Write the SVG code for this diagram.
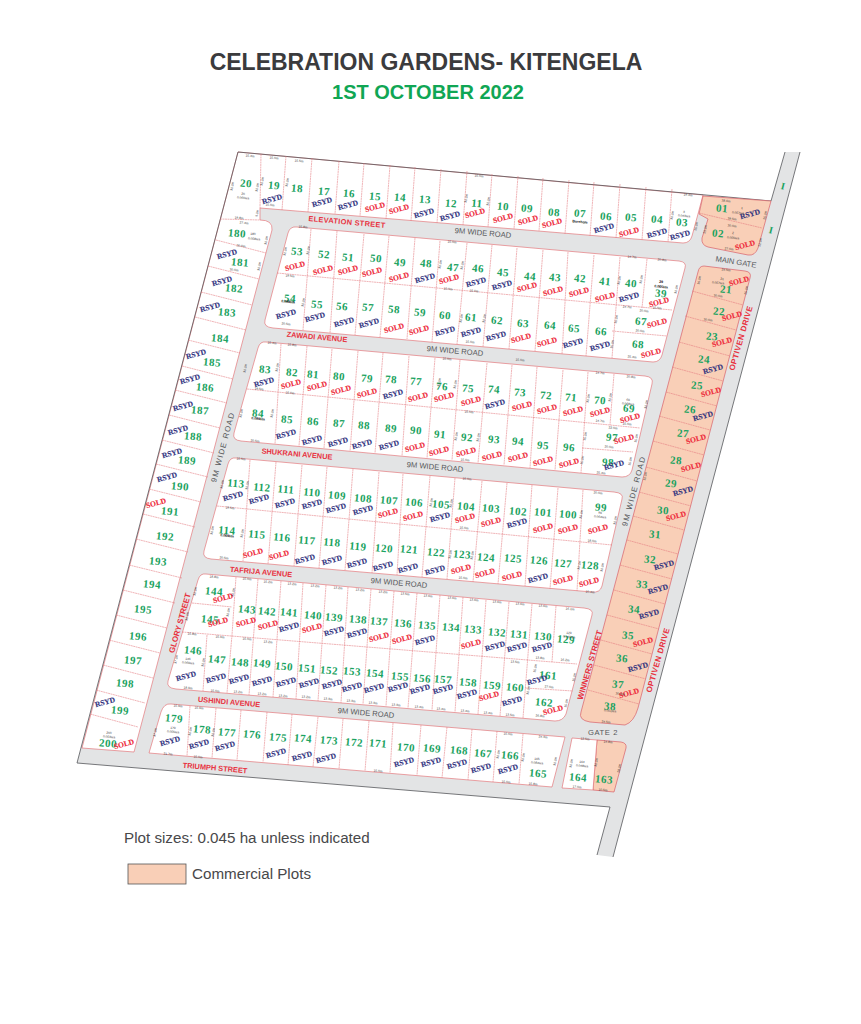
<svg xmlns="http://www.w3.org/2000/svg" width="861" height="1024" viewBox="0 0 861 1024">
<style>
text{font-family:"Liberation Sans",Arial,sans-serif}
.n,.s,.r,.st,.g,.v,.vr,.d,.dv,.k,.i{transform-box:fill-box;transform-origin:center;text-anchor:middle;dominant-baseline:central}
.n{font-family:"Liberation Serif","Times New Roman",serif;font-weight:bold;font-size:11px;letter-spacing:.5px;fill:#1ba35f;transform:rotate(5deg)}
.s{font-family:"Liberation Serif","Times New Roman",serif;font-weight:bold;font-size:7.6px;fill:#ee2a3b;stroke:#ee2a3b;stroke-width:.15;transform:rotate(-15deg)}
.r{font-family:"Liberation Serif","Times New Roman",serif;font-weight:bold;font-size:7.6px;fill:#34357f;stroke:#34357f;stroke-width:.15;transform:rotate(-15deg)}
.st{font-weight:bold;font-size:7.4px;fill:#e8323f;transform:rotate(5deg)}
.g{font-size:7.6px;fill:#55575a;transform:rotate(5deg)}
.v{font-size:7.8px;letter-spacing:1.2px;fill:#55575a;transform:rotate(-75deg)}
.vr{font-weight:bold;font-size:8px;fill:#e8323f;transform:rotate(-74deg)}
.d{font-size:3.2px;fill:#333;transform:rotate(5deg)}
.dv{font-size:3.2px;fill:#333;transform:rotate(-80deg)}
.k{font-size:3.6px;fill:#111;font-weight:bold;transform:rotate(5deg)}
.i{font-family:"Liberation Serif",serif;font-weight:bold;font-size:10px;fill:#1ba35f;transform:rotate(14deg)}
.block{fill:#fff;stroke:#e4787c;stroke-width:.7}
.peach{fill:#f9cfb7;stroke:#d9606a;stroke-width:.7}
.lines{fill:none;stroke:#e4787c;stroke-width:.55;stroke-dasharray:2 .5}
</style>
<rect width="861" height="1024" fill="#fff"/>
<text x="426" y="70" text-anchor="middle" font-size="23" font-weight="bold" fill="#3b3b3d">CELEBRATION GARDENS- KITENGELA</text>
<text x="428" y="99" text-anchor="middle" font-size="20" font-weight="bold" fill="#10a654">1ST OCTOBER 2022</text>

<path d="M238 152L771 201L785 152H800L613 857L597 855L610 807L77 763Z" fill="#e3e4e5"/>
<path d="M238 152L703 195L698 214L692 236Q690 243 683 243L260 208V220Q273 220 272 230L134 752L82 748Z" class="block"/>
<path d="M238 152L771 201L785 152M800 152L613 857M597 855L610 807L77 763L238 152" fill="none" stroke="#55575a" stroke-width=".8"/>
<path d="M703 196L771 201L758 248Q755 256 748 255L708 247Q701 245 702 238L708 219L699 214Z" class="peach"/>
<path d="M704 266L745 271Q752 272 750 278L638 708Q634 722 625 725L590 722Q578 720 581 712L698 272Q699 266 704 266Z" class="peach"/>
<path d="M597 740L621 742Q627 743 626 748L614 792L593 790Z" class="peach"/>
<path d="M572 738L597 740L593 790L562 788Z" class="block"/>
<path d="M297 227L679 261Q687 262 685 268L662 355Q660 362 653 362L273 328Q263 327 265 320L288 233Q290 226 297 227Z" class="block"/>
<path d="M266 342L645 376Q654 377 652 384L632 470Q630 477 622 477L241 441Q232 440 234 433L258 348Q260 341 266 342Z" class="block"/>
<path d="M236 458L614 492Q624 493 622 499L602 586Q600 593 592 592L211 559Q202 558 204 551L228 464Q230 457 236 458Z" class="block"/>
<path d="M206 574L584 608Q594 609 592 615L566 714Q563 721 555 721L176 689Q166 688 168 681L198 580Q200 573 206 574Z" class="block"/>
<path d="M171 704L565 737L552 787L149 753L161 712Q164 703 171 704Z" class="block"/>

<g class="lines">
<path d="M261 154L260 208M286 156L282 210M312 158L308 212M339 161L335 214M364 163L360 216M390 165L386 219M415 167L411 221M441 169L437 223M467 171L463 225M492 174L488 227M518 176L514 229M543 178L539 231M569 180L565 234M594 182L590 236M620 184L616 238M646 187L642 240M672 189L668 242"/>
<path d="M220 219L260 220M216 240L266 253M208 266L259 279M201 292L252 305M195 317L246 330M188 340L240 353M182 366L233 379M175 390L227 403M169 415L220 428M162 440L214 453M156 464L208 477M149 489L201 502M143 514L195 527M136 539L188 552M129 565L182 578M123 590L175 603M116 615L167 628M109 640L160 653M103 665L153 678M96 690L145 703M90 714L138 727"/>
<path d="M311 229L303 330M337 231L330 333M364 234L355 335M389 236L380 337M415 238L407 339M440 241L432 342M467 243L457 344M492 245L483 347M517 248L509 349M543 250L535 351M568 252L562 354M594 255L586 356M620 257L612 358M647 259L642 308M277 273L672 310M612 331L667 336"/>
<path d="M281 344L275 444M307 346L299 446M332 349L324 448M358 351L350 451M383 353L375 453M409 356L402 456M435 358L427 458M460 360L452 460M487 363L478 463M512 365L504 465M537 367L530 468M563 370L555 470M588 372L581 473M614 374L610 425M247 389L640 428M582 448L633 452"/>
<path d="M250 460L243 561M276 462L268 564M302 465L294 566M327 467L319 568M353 469L345 570M379 472L372 573M403 474L397 575M430 476L422 577M455 478L447 579M482 481L473 582M507 483L498 584M532 485L525 586M558 488L550 589M583 490L577 591M217 506L612 545"/>
<path d="M236 577L232 635M258 579L249 695M281 581L273 697M303 583L296 699M326 585L318 701M348 587L341 703M371 589L363 704M394 591L386 706M417 593L408 708M440 595L432 710M463 597L455 712M486 600L478 714M509 602L500 716M532 604L523 718M556 606L552 662M192 603L232 607M182 632L577 664M207 635L203 691M232 635L227 693M525 688L573 691"/>
<path d="M190 706L187 756M216 708L212 758M241 710L237 760M267 712L263 762M292 714L288 765M318 717L313 767M343 719L339 769M369 721L365 771M393 723L390 773M421 725L417 775M447 727L442 778M472 729L468 780M497 731L493 782M523 734L519 784"/>
<path d="M699 213L762 228"/>
<path d="M692 291L743 305M685 316L736 330M679 342L730 356M672 367L723 381M666 392L717 406M659 416L710 430M653 441L704 455M646 467L697 481M639 492L691 506M633 516L684 530M627 540L678 554M620 565L672 579M614 590L665 604M607 615L659 629M601 640L652 654M594 665L646 679M588 690L639 704"/>
</g>

<text class="st" x="347" y="222" letter-spacing=".3">ELEVATION STREET</text>
<text class="st" x="317" y="337">ZAWADI AVENUE</text>
<text class="st" x="297" y="454">SHUKRANI AVENUE</text>
<text class="st" x="261" y="572">TAFRIJA AVENUE</text>
<text class="st" x="229" y="702">USHINDI AVENUE</text>
<text class="st" x="215" y="768">TRIUMPH STREET</text>
<text class="g" x="483" y="233">9M WIDE ROAD</text>
<text class="g" x="455" y="351">9M WIDE ROAD</text>
<text class="g" x="435" y="467">9M WIDE ROAD</text>
<text class="g" x="399" y="583">9M WIDE ROAD</text>
<text class="g" x="366" y="713">9M WIDE ROAD</text>
<text class="g" x="736" y="262" style="transform:rotate(9deg)">MAIN GATE</text>
<text class="g" x="603" y="732" style="transform:none;letter-spacing:.6px">GATE 2</text>
<text class="v" x="223" y="447">9M WIDE ROAD</text>
<text class="v" x="634" y="491">9M WIDE ROAD</text>
<text class="vr" x="180" y="623">GLORY STREET</text>
<text class="vr" x="590" y="665">WINNERS STREET</text>
<text class="vr" x="741" y="338" letter-spacing=".4">OPTIVEN DRIVE</text>
<text class="vr" x="658" y="660" letter-spacing=".4">OPTIVEN DRIVE</text>
<text class="i" x="783" y="186">I</text>
<text class="i" x="771" y="230">I</text>

<g id="plot-numbers">
<text class="n" x="246" y="183">20</text><text class="n" x="274" y="185">19</text><text class="n" x="297" y="188">18</text><text class="n" x="324" y="191">17</text><text class="n" x="349" y="193">16</text><text class="n" x="375" y="196">15</text><text class="n" x="400" y="197">14</text><text class="n" x="425" y="199">13</text><text class="n" x="451" y="203">12</text><text class="n" x="477" y="203">11</text><text class="n" x="503" y="206">10</text><text class="n" x="527" y="208">09</text><text class="n" x="554" y="212">08</text><text class="n" x="580" y="213">07</text><text class="n" x="606" y="216">06</text><text class="n" x="631" y="217">05</text><text class="n" x="657" y="219">04</text><text class="n" x="682" y="222">03</text><text class="n" x="722" y="208">01</text><text class="n" x="718" y="233">02</text>
<text class="n" x="297" y="251">53</text><text class="n" x="324" y="254">52</text><text class="n" x="348" y="257">51</text><text class="n" x="376" y="258">50</text><text class="n" x="400" y="262">49</text><text class="n" x="426" y="263">48</text><text class="n" x="453" y="267">47</text><text class="n" x="478" y="268">46</text><text class="n" x="503" y="272">45</text><text class="n" x="530" y="276">44</text><text class="n" x="555" y="277">43</text><text class="n" x="580" y="278">42</text><text class="n" x="605" y="281">41</text><text class="n" x="631" y="283">40</text><text class="n" x="661" y="293">39</text>
<text class="n" x="290" y="298">54</text><text class="n" x="317" y="304">55</text><text class="n" x="342" y="306">56</text><text class="n" x="368" y="307">57</text><text class="n" x="394" y="309">58</text><text class="n" x="420" y="312">59</text><text class="n" x="445" y="315">60</text><text class="n" x="471" y="317">61</text><text class="n" x="497" y="320">62</text><text class="n" x="523" y="323">63</text><text class="n" x="550" y="325">64</text><text class="n" x="574" y="328">65</text><text class="n" x="601" y="331">66</text><text class="n" x="641" y="321">67</text><text class="n" x="638" y="344">68</text>
<text class="n" x="726" y="289">21</text><text class="n" x="719" y="311">22</text><text class="n" x="712" y="336">23</text><text class="n" x="704" y="359">24</text><text class="n" x="697" y="385">25</text><text class="n" x="690" y="409">26</text><text class="n" x="683" y="433">27</text><text class="n" x="676" y="460">28</text><text class="n" x="671" y="483">29</text><text class="n" x="663" y="510">30</text><text class="n" x="655" y="534">31</text><text class="n" x="650" y="559">32</text><text class="n" x="642" y="584">33</text><text class="n" x="634" y="609">34</text><text class="n" x="628" y="635">35</text><text class="n" x="622" y="658">36</text><text class="n" x="618" y="684">37</text><text class="n" x="610" y="706">38</text>
<text class="n" x="265" y="369">83</text><text class="n" x="292" y="372">82</text><text class="n" x="313" y="374">81</text><text class="n" x="339" y="376">80</text><text class="n" x="367" y="378">79</text><text class="n" x="391" y="379">78</text><text class="n" x="416" y="381">77</text><text class="n" x="442" y="386">76</text><text class="n" x="468" y="388">75</text><text class="n" x="494" y="389">74</text><text class="n" x="520" y="392">73</text><text class="n" x="546" y="395">72</text><text class="n" x="571" y="397">71</text><text class="n" x="600" y="400">70</text><text class="n" x="629" y="408">69</text>
<text class="n" x="258" y="413">84</text><text class="n" x="287" y="419">85</text><text class="n" x="313" y="421">86</text><text class="n" x="339" y="423">87</text><text class="n" x="364" y="425">88</text><text class="n" x="391" y="428">89</text><text class="n" x="416" y="430">90</text><text class="n" x="440" y="434">91</text><text class="n" x="467" y="437">92</text><text class="n" x="494" y="439">93</text><text class="n" x="518" y="441">94</text><text class="n" x="543" y="445">95</text><text class="n" x="569" y="447">96</text><text class="n" x="612" y="437">97</text><text class="n" x="608" y="462">98</text>
<text class="n" x="236" y="483">113</text><text class="n" x="262" y="487">112</text><text class="n" x="286" y="489">111</text><text class="n" x="312" y="492">110</text><text class="n" x="337" y="495">109</text><text class="n" x="363" y="498">108</text><text class="n" x="389" y="500">107</text><text class="n" x="414" y="502">106</text><text class="n" x="441" y="504">105</text><text class="n" x="466" y="506">104</text><text class="n" x="491" y="508">103</text><text class="n" x="518" y="511">102</text><text class="n" x="543" y="512">101</text><text class="n" x="568" y="514">100</text><text class="n" x="601" y="507">99</text>
<text class="n" x="227" y="530">114</text><text class="n" x="257" y="534">115</text><text class="n" x="282" y="537">116</text><text class="n" x="307" y="540">117</text><text class="n" x="332" y="542">118</text><text class="n" x="358" y="546">119</text><text class="n" x="384" y="548">120</text><text class="n" x="409" y="549">121</text><text class="n" x="436" y="552">122</text><text class="n" x="462" y="554">123</text><text class="n" x="486" y="557">124</text><text class="n" x="513" y="558">125</text><text class="n" x="539" y="560">126</text><text class="n" x="563" y="563">127</text><text class="n" x="590" y="565">128</text>
<text class="n" x="214" y="591">144</text><text class="n" x="247" y="609">143</text><text class="n" x="267" y="611">142</text><text class="n" x="289" y="612">141</text><text class="n" x="313" y="615">140</text><text class="n" x="334" y="617">139</text><text class="n" x="358" y="619">138</text><text class="n" x="379" y="621">137</text><text class="n" x="403" y="623">136</text><text class="n" x="427" y="625">135</text><text class="n" x="451" y="627">134</text><text class="n" x="473" y="629">133</text><text class="n" x="497" y="632">132</text><text class="n" x="519" y="634">131</text><text class="n" x="543" y="636">130</text><text class="n" x="566" y="639">129</text>
<text class="n" x="210" y="619">145</text><text class="n" x="193" y="650">146</text><text class="n" x="217" y="659">147</text><text class="n" x="240" y="662">148</text><text class="n" x="262" y="663">149</text><text class="n" x="284" y="666">150</text><text class="n" x="307" y="668">151</text><text class="n" x="329" y="670">152</text><text class="n" x="352" y="671">153</text><text class="n" x="375" y="673">154</text><text class="n" x="400" y="676">155</text><text class="n" x="422" y="678">156</text><text class="n" x="443" y="679">157</text><text class="n" x="468" y="682">158</text><text class="n" x="492" y="685">159</text><text class="n" x="515" y="687">160</text><text class="n" x="548" y="675">161</text><text class="n" x="544" y="702">162</text>
<text class="n" x="174" y="718">179</text><text class="n" x="202" y="729">178</text><text class="n" x="227" y="732">177</text><text class="n" x="252" y="734">176</text><text class="n" x="278" y="737">175</text><text class="n" x="303" y="738">174</text><text class="n" x="329" y="740">173</text><text class="n" x="354" y="742">172</text><text class="n" x="378" y="743">171</text><text class="n" x="406" y="747">170</text><text class="n" x="432" y="748">169</text><text class="n" x="459" y="750">168</text><text class="n" x="483" y="753">167</text><text class="n" x="510" y="755">166</text><text class="n" x="538" y="773">165</text><text class="n" x="578" y="777">164</text><text class="n" x="604" y="779">163</text>
<text class="n" x="237" y="233">180</text><text class="n" x="240" y="262">181</text><text class="n" x="234" y="288">182</text><text class="n" x="227" y="312">183</text><text class="n" x="220" y="338">184</text><text class="n" x="212" y="362">185</text><text class="n" x="205" y="387">186</text><text class="n" x="200" y="410">187</text><text class="n" x="193" y="436">188</text><text class="n" x="187" y="460">189</text><text class="n" x="180" y="486">190</text><text class="n" x="170" y="511">191</text><text class="n" x="165" y="536">192</text><text class="n" x="158" y="561">193</text><text class="n" x="152" y="584">194</text><text class="n" x="143" y="609">195</text><text class="n" x="138" y="636">196</text><text class="n" x="133" y="660">197</text><text class="n" x="125" y="683">198</text><text class="n" x="120" y="710">199</text><text class="n" x="108" y="743">200</text>
</g>

<g id="sold">
<text class="s" x="375" y="207">SOLD</text><text class="s" x="399" y="209">SOLD</text><text class="s" x="475" y="213">SOLD</text><text class="s" x="503" y="218">SOLD</text><text class="s" x="528" y="220">SOLD</text><text class="s" x="552" y="223">SOLD</text><text class="s" x="629" y="232">SOLD</text><text class="s" x="745" y="245">SOLD</text>
<text class="s" x="295" y="266">SOLD</text><text class="s" x="323" y="270">SOLD</text><text class="s" x="348" y="270">SOLD</text><text class="s" x="372" y="272">SOLD</text><text class="s" x="399" y="277">SOLD</text><text class="s" x="449" y="279">SOLD</text><text class="s" x="527" y="287">SOLD</text><text class="s" x="553" y="291">SOLD</text><text class="s" x="579" y="292">SOLD</text><text class="s" x="605" y="297">SOLD</text><text class="s" x="659" y="302">SOLD</text>
<text class="s" x="394" y="328">SOLD</text><text class="s" x="419" y="330">SOLD</text><text class="s" x="521" y="338">SOLD</text><text class="s" x="547" y="342">SOLD</text><text class="s" x="657" y="323">SOLD</text><text class="s" x="651" y="353">SOLD</text>
<text class="s" x="739" y="281">SOLD</text><text class="s" x="732" y="316">SOLD</text><text class="s" x="722" y="342">SOLD</text><text class="s" x="711" y="392">SOLD</text><text class="s" x="696" y="439">SOLD</text><text class="s" x="691" y="467">SOLD</text><text class="s" x="676" y="516">SOLD</text><text class="s" x="643" y="642">SOLD</text><text class="s" x="629" y="693">SOLD</text>
<text class="s" x="291" y="384">SOLD</text><text class="s" x="317" y="386">SOLD</text><text class="s" x="341" y="390">SOLD</text><text class="s" x="367" y="393">SOLD</text><text class="s" x="418" y="397">SOLD</text><text class="s" x="444" y="397">SOLD</text><text class="s" x="471" y="401">SOLD</text><text class="s" x="522" y="406">SOLD</text><text class="s" x="547" y="409">SOLD</text><text class="s" x="573" y="411">SOLD</text><text class="s" x="600" y="412">SOLD</text><text class="s" x="630" y="418">SOLD</text>
<text class="s" x="415" y="447">SOLD</text><text class="s" x="439" y="451">SOLD</text><text class="s" x="466" y="452">SOLD</text><text class="s" x="492" y="456">SOLD</text><text class="s" x="518" y="457">SOLD</text><text class="s" x="543" y="461">SOLD</text><text class="s" x="569" y="463">SOLD</text><text class="s" x="624" y="439">SOLD</text>
<text class="s" x="388" y="513">SOLD</text><text class="s" x="413" y="516">SOLD</text><text class="s" x="465" y="518">SOLD</text><text class="s" x="491" y="522">SOLD</text><text class="s" x="543" y="528">SOLD</text><text class="s" x="568" y="529">SOLD</text><text class="s" x="598" y="529">SOLD</text>
<text class="s" x="253" y="553">SOLD</text><text class="s" x="279" y="555">SOLD</text><text class="s" x="461" y="569">SOLD</text><text class="s" x="485" y="573">SOLD</text><text class="s" x="512" y="576">SOLD</text><text class="s" x="563" y="580">SOLD</text><text class="s" x="589" y="582">SOLD</text>
<text class="s" x="223" y="598">SOLD</text><text class="s" x="218" y="622">SOLD</text><text class="s" x="246" y="622">SOLD</text><text class="s" x="268" y="625">SOLD</text><text class="s" x="312" y="628">SOLD</text><text class="s" x="379" y="637">SOLD</text><text class="s" x="402" y="639">SOLD</text><text class="s" x="471" y="644">SOLD</text><text class="s" x="489" y="696">SOLD</text><text class="s" x="553" y="710">SOLD</text>
<text class="s" x="156" y="503">SOLD</text><text class="s" x="124" y="744">SOLD</text>
</g>

<g id="rsyd">
<text class="r" x="272" y="199">RSYD</text><text class="r" x="322" y="202">RSYD</text><text class="r" x="348" y="205">RSYD</text><text class="r" x="424" y="213">RSYD</text><text class="r" x="450" y="216">RSYD</text><text class="r" x="604" y="228">RSYD</text><text class="r" x="657" y="233">RSYD</text><text class="r" x="680" y="235">RSYD</text><text class="r" x="750" y="214">RSYD</text>
<text class="r" x="425" y="278">RSYD</text><text class="r" x="476" y="282">RSYD</text><text class="r" x="502" y="285">RSYD</text><text class="r" x="629" y="297">RSYD</text>
<text class="r" x="286" y="314">RSYD</text><text class="r" x="315" y="317">RSYD</text><text class="r" x="344" y="322">RSYD</text><text class="r" x="369" y="323">RSYD</text><text class="r" x="445" y="331">RSYD</text><text class="r" x="471" y="332">RSYD</text><text class="r" x="496" y="336">RSYD</text><text class="r" x="573" y="343">RSYD</text><text class="r" x="600" y="346">RSYD</text>
<text class="r" x="713" y="369">RSYD</text><text class="r" x="703" y="416">RSYD</text><text class="r" x="683" y="491">RSYD</text><text class="r" x="664" y="565">RSYD</text><text class="r" x="658" y="589">RSYD</text><text class="r" x="649" y="614">RSYD</text><text class="r" x="638" y="667">RSYD</text>
<text class="r" x="264" y="382">RSYD</text><text class="r" x="393" y="394">RSYD</text><text class="r" x="495" y="404">RSYD</text>
<text class="r" x="286" y="434">RSYD</text><text class="r" x="312" y="440">RSYD</text><text class="r" x="338" y="442">RSYD</text><text class="r" x="362" y="444">RSYD</text><text class="r" x="389" y="445">RSYD</text><text class="r" x="614" y="465">RSYD</text>
<text class="r" x="233" y="496">RSYD</text><text class="r" x="259" y="499">RSYD</text><text class="r" x="285" y="503">RSYD</text><text class="r" x="312" y="504">RSYD</text><text class="r" x="336" y="508">RSYD</text><text class="r" x="363" y="510">RSYD</text><text class="r" x="440" y="517">RSYD</text><text class="r" x="517" y="523">RSYD</text>
<text class="r" x="305" y="559">RSYD</text><text class="r" x="332" y="560">RSYD</text><text class="r" x="357" y="563">RSYD</text><text class="r" x="383" y="566">RSYD</text><text class="r" x="408" y="568">RSYD</text><text class="r" x="435" y="570">RSYD</text><text class="r" x="538" y="578">RSYD</text>
<text class="r" x="289" y="627">RSYD</text><text class="r" x="334" y="631">RSYD</text><text class="r" x="357" y="633">RSYD</text><text class="r" x="425" y="640">RSYD</text><text class="r" x="495" y="646">RSYD</text><text class="r" x="517" y="647">RSYD</text><text class="r" x="542" y="647">RSYD</text>
<text class="r" x="186" y="676">RSYD</text><text class="r" x="216" y="678">RSYD</text><text class="r" x="239" y="679">RSYD</text><text class="r" x="262" y="681">RSYD</text><text class="r" x="286" y="682">RSYD</text><text class="r" x="309" y="683">RSYD</text><text class="r" x="332" y="684">RSYD</text><text class="r" x="352" y="687">RSYD</text><text class="r" x="374" y="688">RSYD</text><text class="r" x="398" y="687">RSYD</text><text class="r" x="420" y="689">RSYD</text><text class="r" x="443" y="689">RSYD</text><text class="r" x="467" y="694">RSYD</text><text class="r" x="512" y="701">RSYD</text><text class="r" x="537" y="680">RSYD</text>
<text class="r" x="170" y="741">RSYD</text><text class="r" x="199" y="744">RSYD</text><text class="r" x="225" y="746">RSYD</text><text class="r" x="276" y="753">RSYD</text><text class="r" x="302" y="756">RSYD</text><text class="r" x="326" y="758">RSYD</text><text class="r" x="404" y="762">RSYD</text><text class="r" x="431" y="762">RSYD</text><text class="r" x="457" y="764">RSYD</text><text class="r" x="481" y="768">RSYD</text><text class="r" x="508" y="769">RSYD</text>
<text class="r" x="227" y="254">RSYD</text><text class="r" x="222" y="281">RSYD</text><text class="r" x="210" y="307">RSYD</text><text class="r" x="196" y="354">RSYD</text><text class="r" x="190" y="379">RSYD</text><text class="r" x="183" y="406">RSYD</text><text class="r" x="178" y="430">RSYD</text><text class="r" x="172" y="453">RSYD</text><text class="r" x="167" y="477">RSYD</text><text class="r" x="105" y="702">RSYD</text>
</g>

<g id="areas">
<text class="k" x="580" y="222">Barehole</text>
<text class="d" x="243" y="194">20</text><text class="d" x="243" y="198">0.060Ha</text>
<text class="d" x="253" y="234">180</text><text class="d" x="254" y="239">0.058Ha</text>
<text class="k" x="288" y="302">0.088Ha</text>
<text class="k" x="661" y="282">39</text><text class="k" x="661" y="287">0.065Ha</text>
<text class="d" x="684" y="212">3</text><text class="d" x="684" y="216">0.043Ha</text>
<text class="d" x="742" y="208">1</text><text class="d" x="738" y="213">0.057Ha</text>
<text class="d" x="733" y="233">2</text><text class="d" x="733" y="238">0.055Ha</text>
<text class="d" x="722" y="279">21</text><text class="d" x="718" y="283">0.057Ha</text>
<text class="d" x="628" y="400">69</text><text class="d" x="628" y="404">0.068Ha</text>
<text class="k" x="258" y="419">0.089Ha</text>
<text class="d" x="600" y="513">99</text><text class="d" x="600" y="517">0.064Ha</text>
<text class="k" x="227" y="536">0.069Ha</text>
<text class="d" x="569" y="633">129</text><text class="d" x="569" y="637">0.049Ha</text>
<text class="d" x="188" y="659">146</text><text class="d" x="188" y="663">0.069Ha</text>
<text class="d" x="537" y="759">165</text><text class="d" x="537" y="763">0.084Ha</text>
<text class="d" x="582" y="762">164</text><text class="d" x="582" y="766">0.048Ha</text>
<text class="d" x="173" y="728">179</text><text class="d" x="173" y="732">0.055Ha</text>
<text class="d" x="109" y="733">200</text><text class="d" x="109" y="737">0.053Ha</text>
<text class="d" x="610" y="711">0.051Ha</text>
</g>

<g id="dimensions">
<text class="d" x="250" y="156">15.4m</text><text class="d" x="274" y="158">15.0m</text><text class="d" x="299" y="161">15.5m</text><text class="d" x="479" y="176">15.0m</text><text class="d" x="239" y="218">19.8m</text><text class="d" x="244" y="223">27.4m</text><text class="d" x="270" y="205">15.0m</text><text class="d" x="303" y="227">15.8m</text><text class="d" x="452" y="242">15.0m</text><text class="d" x="241" y="246">30.0m</text><text class="d" x="234" y="270">30.0m</text><text class="d" x="290" y="276">19.5m</text><text class="d" x="448" y="289">15.0m</text><text class="d" x="474" y="291">15.0m</text><text class="d" x="286" y="324">20.5m</text><text class="d" x="470" y="342">15.0m</text><text class="d" x="272" y="343">15.4m</text><text class="d" x="292" y="345">15.8m</text><text class="d" x="447" y="359">15.0m</text>
<text class="d" x="688" y="195">19.4m</text><text class="d" x="726" y="201">38.6m</text><text class="d" x="732" y="219">39.5m</text><text class="d" x="732" y="226">30.0m</text><text class="d" x="729" y="249">27.0m</text><text class="d" x="632" y="257">14.7m</text><text class="d" x="662" y="260">20.8m</text><text class="d" x="726" y="270">24.5m</text><text class="d" x="627" y="307">14.7m</text><text class="d" x="644" y="311">20.0m</text><text class="d" x="657" y="308">15.0m</text><text class="d" x="640" y="331">20.0m</text><text class="d" x="632" y="357">25.4m</text><text class="d" x="718" y="296">30.0m</text><text class="d" x="708" y="320">30.0m</text>
<text class="d" x="520" y="360">15.0m</text><text class="d" x="600" y="373">14.7m</text><text class="d" x="631" y="377">20.8m</text><text class="d" x="469" y="412">15.0m</text><text class="d" x="600" y="421">14.7m</text><text class="d" x="613" y="428">22.0m</text><text class="d" x="627" y="424">15.0m</text><text class="d" x="609" y="447">20.0m</text><text class="d" x="601" y="473">25.4m</text><text class="d" x="465" y="460">15.0m</text>
<text class="d" x="259" y="389">19.5m</text><text class="d" x="290" y="393">15.0m</text><text class="d" x="255" y="441">20.5m</text><text class="d" x="241" y="459">15.5m</text><text class="d" x="230" y="508">19.5m</text><text class="d" x="224" y="558">20.5m</text><text class="d" x="598" y="493">20.0m</text><text class="d" x="592" y="541">18.0m</text><text class="d" x="590" y="592">10.4m</text><text class="d" x="467" y="479">15.0m</text><text class="d" x="464" y="528">15.0m</text><text class="d" x="463" y="578">15.0m</text>
<text class="d" x="214" y="577">18.8m</text><text class="d" x="247" y="579">15.0m</text><text class="d" x="268" y="582">15.2m</text><text class="d" x="292" y="584">13.2m</text><text class="d" x="315" y="586">13.2m</text><text class="d" x="338" y="588">13.2m</text><text class="d" x="360" y="590">13.2m</text><text class="d" x="383" y="592">13.2m</text><text class="d" x="405" y="594">13.5m</text><text class="d" x="428" y="596">13.6m</text><text class="d" x="452" y="598">13.6m</text><text class="d" x="474" y="600">13.6m</text><text class="d" x="497" y="602">13.6m</text><text class="d" x="520" y="604">13.6m</text><text class="d" x="543" y="606">13.6m</text><text class="d" x="570" y="609">16.1m</text>
<text class="d" x="192" y="634">15.8m</text><text class="d" x="220" y="637">15.6m</text><text class="d" x="247" y="639">15.0m</text><text class="d" x="268" y="642">13.2m</text><text class="d" x="515" y="662">13.5m</text><text class="d" x="540" y="658">13.8m</text><text class="d" x="565" y="660">16.2m</text><text class="d" x="549" y="687">27.0m</text><text class="d" x="188" y="688">18.9m</text><text class="d" x="215" y="691">15.0m</text><text class="d" x="238" y="692">13.2m</text><text class="d" x="262" y="694">13.2m</text><text class="d" x="283" y="696">13.2m</text><text class="d" x="306" y="697">13.2m</text><text class="d" x="328" y="699">13.3m</text><text class="d" x="351" y="701">13.3m</text><text class="d" x="373" y="703">13.3m</text><text class="d" x="396" y="705">13.3m</text><text class="d" x="419" y="707">13.4m</text><text class="d" x="441" y="709">13.4m</text><text class="d" x="465" y="711">13.4m</text><text class="d" x="488" y="713">13.4m</text><text class="d" x="510" y="715">13.5m</text><text class="d" x="540" y="716">26.8m</text>
<text class="d" x="178" y="706">15.9m</text><text class="d" x="199" y="708">15.9m</text><text class="d" x="508" y="734">15.0m</text><text class="d" x="543" y="737">24.3m</text><text class="d" x="168" y="754">21.7m</text><text class="d" x="198" y="757">15.0m</text><text class="d" x="378" y="771">15.0m</text><text class="d" x="506" y="782">15.0m</text><text class="d" x="533" y="784">15.8m</text><text class="d" x="585" y="739">12.5m</text><text class="d" x="608" y="742">14.8m</text><text class="d" x="577" y="787">17.0m</text><text class="d" x="603" y="790">10.5m</text><text class="d" x="606" y="722">24.5m</text><text class="d" x="620" y="694">30.0m</text>
<text class="dv" x="232" y="186">30.0m</text><text class="dv" x="257" y="187">30.0m</text><text class="dv" x="262" y="181">30.0m</text><text class="dv" x="287" y="182">30.0m</text><text class="dv" x="257" y="213">9.0m</text><text class="dv" x="266" y="240">30.0m</text><text class="dv" x="285" y="251">32.0m</text><text class="dv" x="308" y="250">30.0m</text><text class="dv" x="440" y="264">30.0m</text><text class="dv" x="462" y="265">30.0m</text><text class="dv" x="303" y="302">30.0m</text><text class="dv" x="461" y="318">30.0m</text><text class="dv" x="484" y="318">30.0m</text><text class="dv" x="466" y="198">30.0m</text><text class="dv" x="488" y="201">30.0m</text><text class="dv" x="259" y="266">30.0m</text><text class="dv" x="672" y="215">30.0m</text><text class="dv" x="696" y="226">25.0m</text><text class="dv" x="705" y="229">29.0m</text><text class="dv" x="765" y="215">25.0m</text><text class="dv" x="760" y="242">22.0m</text><text class="dv" x="619" y="280">30.0m</text><text class="dv" x="641" y="279">30.0m</text><text class="dv" x="676" y="289">30.0m</text><text class="dv" x="616" y="319">15.0m</text><text class="dv" x="612" y="344">15.0m</text><text class="dv" x="699" y="280">16.0m</text><text class="dv" x="746" y="290">25.0m</text><text class="dv" x="245" y="368">30.0m</text><text class="dv" x="277" y="367">30.0m</text><text class="dv" x="241" y="413">30.0m</text><text class="dv" x="272" y="413">30.0m</text><text class="dv" x="439" y="382">30.0m</text><text class="dv" x="455" y="384">30.0m</text><text class="dv" x="588" y="398">30.0m</text><text class="dv" x="610" y="397">30.0m</text><text class="dv" x="646" y="404">30.0m</text><text class="dv" x="456" y="436">30.0m</text><text class="dv" x="478" y="437">30.0m</text><text class="dv" x="585" y="436">15.0m</text><text class="dv" x="636" y="438">15.0m</text><text class="dv" x="582" y="460">15.0m</text><text class="dv" x="630" y="461">15.0m</text><text class="dv" x="645" y="476">10.0m</text><text class="dv" x="222" y="484">30.0m</text><text class="dv" x="247" y="485">30.0m</text><text class="dv" x="212" y="530">30.0m</text><text class="dv" x="242" y="533">30.0m</text><text class="dv" x="431" y="502">30.0m</text><text class="dv" x="451" y="503">30.0m</text><text class="dv" x="581" y="514">30.0m</text><text class="dv" x="615" y="520">30.0m</text><text class="dv" x="450" y="554">30.0m</text><text class="dv" x="472" y="555">30.0m</text><text class="dv" x="579" y="565">30.0m</text><text class="dv" x="602" y="567">30.0m</text><text class="dv" x="195" y="591">30.0m</text><text class="dv" x="233" y="592">30.0m</text><text class="dv" x="187" y="616">30.0m</text><text class="dv" x="228" y="612">30.0m</text><text class="dv" x="176" y="659">37.0m</text><text class="dv" x="203" y="662">30.0m</text><text class="dv" x="155" y="732">37.0m</text><text class="dv" x="190" y="731">30.0m</text><text class="dv" x="213" y="732">30.0m</text><text class="dv" x="528" y="690">30.0m</text><text class="dv" x="535" y="668">15.0m</text><text class="dv" x="574" y="677">15.0m</text><text class="dv" x="566" y="703">15.0m</text><text class="dv" x="498" y="754">30.0m</text><text class="dv" x="523" y="757">30.0m</text><text class="dv" x="555" y="761">30.0m</text><text class="dv" x="571" y="763">30.0m</text><text class="dv" x="596" y="762">30.0m</text><text class="dv" x="619" y="768">28.0m</text>
</g>

<text x="124" y="843" font-size="15.2" fill="#48484a">Plot sizes: 0.045 ha unless indicated</text>
<rect x="128" y="864" width="58" height="20" fill="#f9cfb7" stroke="#555" stroke-width=".8"/>
<text x="192" y="879" font-size="15.2" fill="#48484a">Commercial Plots</text>
</svg>
